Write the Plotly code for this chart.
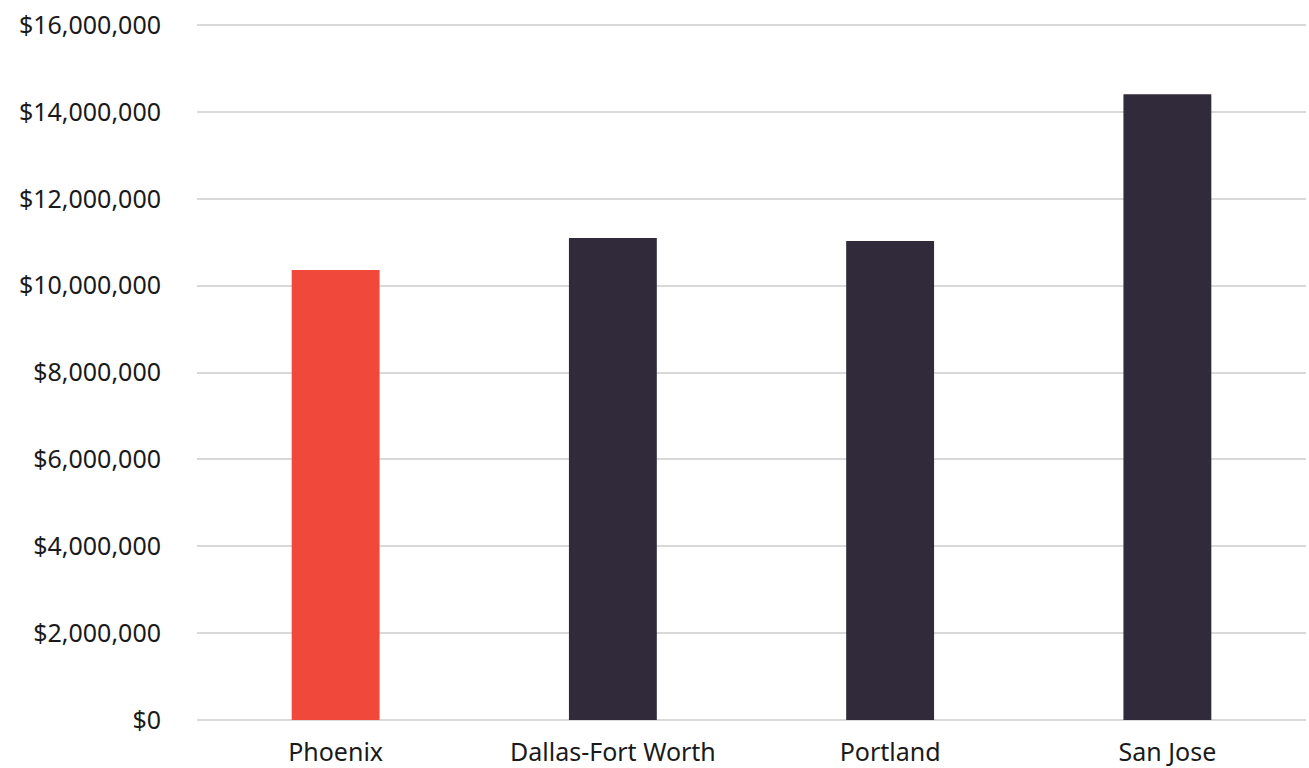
import plotly.graph_objects as go

categories = ["Phoenix", "Dallas-Fort Worth", "Portland", "San Jose"]
values = [10360000, 11100000, 11030000, 14410000]
colors = ["#F0483B", "#312A3A", "#312A3A", "#312A3A"]
tick_vals = [0, 2e6, 4e6, 6e6, 8e6, 10e6, 12e6, 14e6, 16e6]
tick_text = ["$0", "$2,000,000", "$4,000,000", "$6,000,000", "$8,000,000",
             "$10,000,000", "$12,000,000", "$14,000,000", "$16,000,000"]

fig = go.Figure(go.Bar(x=categories, y=values, marker_color=colors,
                       marker_line_width=0, hoverinfo="skip"))
fig.update_layout(
    width=1309, height=768,
    margin=dict(l=197, r=3, t=23, b=48),
    paper_bgcolor="white", plot_bgcolor="white",
    bargap=0.683,
    showlegend=False,
    font=dict(family="Noto Sans, Lato, sans-serif", size=25, color="#1a1a1a"),
)
fig.update_yaxes(range=[0, 16.05e6], tickvals=tick_vals, ticktext=tick_text,
                 showgrid=True, gridcolor="#D9D9D9", gridwidth=1.5,
                 zeroline=True, zerolinecolor="#D9D9D9", zerolinewidth=1.5,
                 ticks="", ticklen=0, showline=False, ticklabelstandoff=35,
                 automargin=False)
fig.update_xaxes(showgrid=False, ticks="", showline=False, ticklabelstandoff=15,
                 automargin=False)
fig.write_html("out.html")
